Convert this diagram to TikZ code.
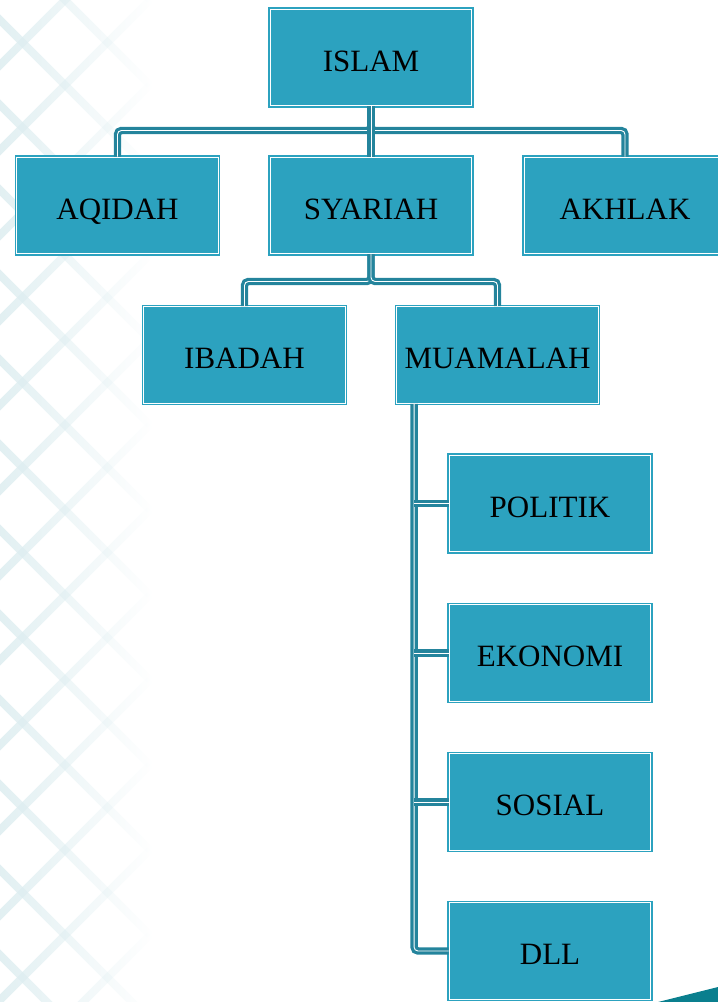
\documentclass[tikz,border=0pt]{standalone}
\usepackage{fontspec}
\setmainfont{Liberation Serif}
\usetikzlibrary{calc,fadings}
\definecolor{boxteal}{HTML}{2CA2BF}
\definecolor{linkteal}{HTML}{24849C}
\definecolor{bgteal}{HTML}{DDEDF0}
\definecolor{cornerteal}{HTML}{0A7F8E}
\tikzset{
  topic/.style={draw=boxteal, double=white, double distance=1.4pt, line width=1.4pt,
    fill=boxteal, minimum width=201.5pt, minimum height=96.5pt, inner sep=0pt,
    text height=29pt, text depth=2pt, font=\fontsize{31}{36}\selectfont},
  link/.style={draw=linkteal, line width=7.4pt, rounded corners=4pt,
    postaction={draw=white, line width=0.9pt, shift={(-1.6,-1.6)}}},
  bgband/.style={draw=bgteal, line width=8pt, path fading=east}
}
\begin{document}
\begin{tikzpicture}[x=1pt,y=-1pt]
  \useasboundingbox (0,0) rectangle (718,1002);
  % background pattern
  \begin{scope}
    \clip (0,0) rectangle (160,1002);
    \foreach \k in {-3,...,14} {
      \draw[bgband] (-20,\k*85) -- ++(170,170);
      \draw[bgband] (-20,\k*85) -- ++(170,-170);
    }
  \end{scope}
  \fill[cornerteal] (658,1002) -- (718,987) -- (718,1002) -- cycle;
  % boxes
  \draw
    (371,57.5) node[topic] (islam){ISLAM}
    (117.5,205.5) node[topic] (aqidah){AQIDAH}
    (371,205.5) node[topic] (syariah){SYARIAH}
    (625,205.5) node[topic] (akhlak){AKHLAK}
    (244.5,355) node[topic] (ibadah){IBADAH}
    (497.5,355) node[topic] (muamalah){MUAMALAH}
    (550,503.5) node[topic] (politik){POLITIK}
    (550,653) node[topic] (ekonomi){EKONOMI}
    (550,802) node[topic] (sosial){SOSIAL}
    (550,951) node[topic] (dll){DLL};
  \coordinate (mv) at ($(muamalah.south west)+(18,0)$);
  % connectors
  \draw[link] (islam.south) -- ++(0,24) -| (aqidah.north);
  \draw[link] (islam.south) -- ++(0,24) -| (akhlak.north);
  \draw[link] (islam.south) -- (syariah.north);
  \draw[link] (syariah.south) -- ++(0,27) -| (ibadah.north);
  \draw[link] (syariah.south) -- ++(0,27) -| (muamalah.north);
  \draw[link] (mv) |- (dll.west);
  \draw[link] (politik.west -| mv) -- (politik.west);
  \draw[link] (ekonomi.west -| mv) -- (ekonomi.west);
  \draw[link] (sosial.west -| mv) -- (sosial.west);
\end{tikzpicture}
\end{document}
